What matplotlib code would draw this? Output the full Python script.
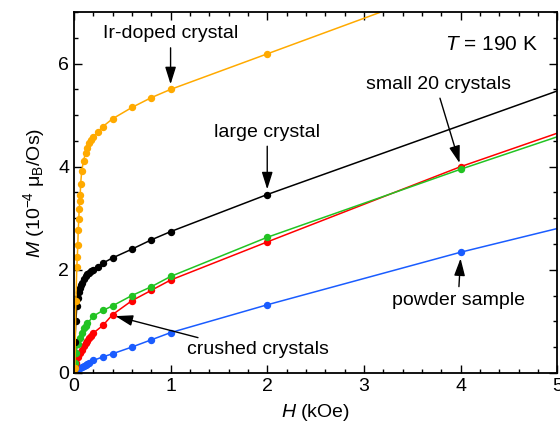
import matplotlib
matplotlib.use('Agg')
import matplotlib.pyplot as plt
from matplotlib.ticker import MultipleLocator

plt.rcParams['font.family'] = ['Liberation Sans', 'DejaVu Sans']
plt.rcParams['mathtext.fontset'] = 'custom'
plt.rcParams['mathtext.rm'] = 'Liberation Sans'
plt.rcParams['mathtext.it'] = 'Liberation Sans:italic'

# field (kOe) and magnetization (1e-4 muB/Os)
h_ir = [0, 0.01, 0.02, 0.03, 0.035, 0.04, 0.045, 0.05, 0.055, 0.06, 0.065, 0.07, 0.08,
        0.1, 0.12, 0.14, 0.16, 0.18, 0.2, 0.25, 0.3, 0.4, 0.6, 0.8, 1, 2, 4]
m_ir = [0, 0.1, 1.40, 2.06, 2.24, 2.48, 2.77, 2.98, 3.18, 3.33, 3.45, 3.67, 3.91,
        4.12, 4.27, 4.36, 4.46, 4.52, 4.57, 4.68, 4.78, 4.93, 5.15, 5.34, 5.50, 6.19, 7.57]

h_large = [0, 0.01, 0.02, 0.03, 0.04, 0.05, 0.06, 0.07, 0.08, 0.1, 0.12, 0.14, 0.16,
           0.18, 0.2, 0.25, 0.3, 0.4, 0.6, 0.8, 1, 2, 6]
m_large = [0, 0.6, 1.0, 1.3, 1.45, 1.56, 1.64, 1.70, 1.75, 1.82, 1.87, 1.91, 1.94,
           1.97, 1.99, 2.06, 2.13, 2.23, 2.40, 2.58, 2.74, 3.46, 6.14]

h_small = [0, 0.01, 0.02, 0.04, 0.06, 0.08, 0.1, 0.12, 0.14, 0.2, 0.3, 0.4, 0.6, 0.8,
           1, 2, 4, 6]
m_small = [0, 0.2, 0.38, 0.56, 0.68, 0.78, 0.86, 0.91, 0.96, 1.10, 1.21, 1.30, 1.50, 1.67,
           1.87, 2.63, 3.95, 5.21]

h_crushed = [0, 0.01, 0.02, 0.04, 0.06, 0.08, 0.1, 0.12, 0.14, 0.16, 0.18, 0.2, 0.3, 0.4,
             0.6, 0.8, 1, 2, 4, 6]
m_crushed = [0, 0.12, 0.2, 0.3, 0.38, 0.45, 0.52, 0.57, 0.62, 0.67, 0.72, 0.77, 0.92, 1.13,
             1.40, 1.60, 1.80, 2.54, 4.00, 5.30]

h_powder = [0, 0.01, 0.02, 0.04, 0.06, 0.08, 0.1, 0.12, 0.14, 0.16, 0.2, 0.3, 0.4, 0.6,
            0.8, 1, 2, 4, 6]
m_powder = [0, 0.02, 0.04, 0.07, 0.1, 0.12, 0.14, 0.16, 0.18, 0.2, 0.24, 0.31, 0.37, 0.50,
            0.64, 0.78, 1.32, 2.34, 3.26]

fig = plt.figure(figsize=(5.6, 4.33), dpi=100)
ax = fig.add_axes([0.132, 0.139, 0.863, 0.833])

kw = dict(marker='o', markersize=4.3, lw=1.1)
ax.plot(h_powder, m_powder, color='#1A5CFF', **kw)
ax.plot(h_crushed, m_crushed, color='#FF0000', **kw)
ax.plot(h_small, m_small, color='#22C322', **kw)
ax.plot(h_large, m_large, color='black', **kw)
ax.plot(h_ir, m_ir, color='#FFAA00', **kw)

ax.set_xlim(0, 5)
ax.set_ylim(0, 7)
ax.xaxis.set_major_locator(MultipleLocator(1))
ax.xaxis.set_minor_locator(MultipleLocator(0.2))
ax.yaxis.set_major_locator(MultipleLocator(2))
ax.yaxis.set_minor_locator(MultipleLocator(0.5))
ax.tick_params(which='both', direction='in', top=True, right=True, labelsize=14)
ax.tick_params(which='major', length=6, width=1)
ax.tick_params(which='minor', length=3, width=1)
for s in ax.spines.values():
    s.set_linewidth(1.3)

ax.set_xlabel(r'$H$ (kOe)', fontsize=14, labelpad=5)
ax.set_ylabel(r'$M$ (10$^{-4}$ μ$_\mathrm{B}$/Os)', fontsize=14, labelpad=8)

arr = dict(arrowstyle='-|>,head_length=0.7,head_width=0.22', color='black', lw=1,
           mutation_scale=15, shrinkA=2, shrinkB=0)
fs = 14
ax.annotate('Ir-doped crystal', xy=(1.0, 5.6), xytext=(1.0, 6.58), fontsize=fs,
            ha='center', va='center', arrowprops=dict(arr, relpos=(0.5, 0.0)))
ax.annotate('large crystal', xy=(2.0, 3.56), xytext=(2.0, 4.67), fontsize=fs,
            ha='center', va='center', arrowprops=dict(arr, relpos=(0.5, 0.0)))
ax.annotate('small 20 crystals', xy=(3.99, 4.07), xytext=(3.77, 5.6), fontsize=fs,
            ha='center', va='center', arrowprops=dict(arr, relpos=(0.5, 0.0)))
ax.annotate('powder sample', xy=(4.0, 2.22), xytext=(3.98, 1.4), fontsize=fs,
            ha='center', va='center', arrowprops=dict(arr, relpos=(0.5, 1.0)))
ax.annotate('crushed crystals', xy=(0.43, 1.1), xytext=(1.9, 0.45), fontsize=fs,
            ha='center', va='center',
            arrowprops=dict(arr, relpos=(0.22, 0.9)))
ax.text(4.8, 6.38, r'$T$ = 190 K', fontsize=15, ha='right', va='center')

fig.savefig('out.png', dpi=100)
